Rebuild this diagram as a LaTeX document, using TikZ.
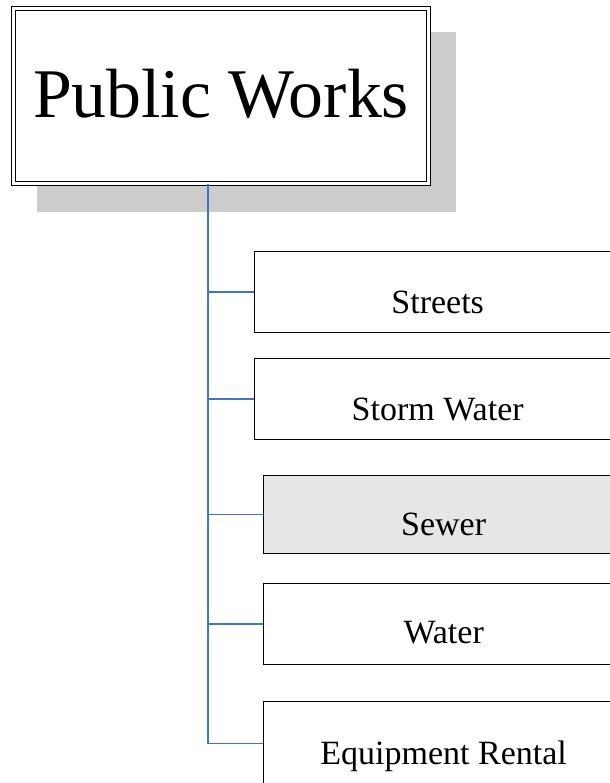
\documentclass[tikz,border=0pt]{standalone}
\usepackage{fontspec}
\setmainfont{Liberation Serif}
\usepackage{tikz}
\definecolor{linkblue}{HTML}{4472C4}
\definecolor{shadowgray}{HTML}{CCCCCC}
\definecolor{sewergray}{HTML}{E6E6E6}
\begin{document}
\begin{tikzpicture}[x=0.75pt,y=-0.75pt,
    head/.style ={draw, double, double distance=1.8pt, line width=0.75pt, fill=white,
                  inner sep=0pt, anchor=north west, minimum width=311.25pt,
                  text height=81.75pt, text depth=49.5pt, font=\fontsize{52.3}{60}\selectfont},
    unit/.style ={draw, line width=1pt, inner sep=0pt, anchor=north west,
                  font=\fontsize{25.5}{30}\selectfont},
    branch/.style ={linkblue, line width=1.1pt}]
   \useasboundingbox (0,0) rectangle (610,783);
   \clip (0,0) rectangle (610,783);

   \fill[shadowgray] (37,32) rectangle (456,212);
   \node[head] (pw) at (13,8) {Public Works};

   \node[unit,minimum width=274.5pt,text height=46.5pt,text depth=14.25pt] (streets) at (254,251) {Streets};
   \node[unit,minimum width=274.5pt,text height=46.5pt,text depth=14.25pt] (storm) at (254,358) {Storm Water};
   \node[unit,fill=sewergray,minimum width=270pt,text height=45pt,text depth=13.5pt] (sewer) at (263,475) {Sewer};
   \node[unit,minimum width=270pt,text height=45pt,text depth=15.75pt] (water) at (263,583) {Water};
   \node[unit,minimum width=270pt,text height=47.25pt,text depth=15.75pt] (rental) at (263,701) {Equipment Rental};

   \coordinate (trunk) at (pw.south -| 208,0);
   \draw[branch] (trunk) |- (streets.west);
   \draw[branch] (trunk) |- (storm.west);
   \draw[branch] (trunk) |- (sewer.west);
   \draw[branch] (trunk) |- (water.west);
   \draw[branch] (trunk) |- (rental.west);
 \end{tikzpicture}
\end{document}
